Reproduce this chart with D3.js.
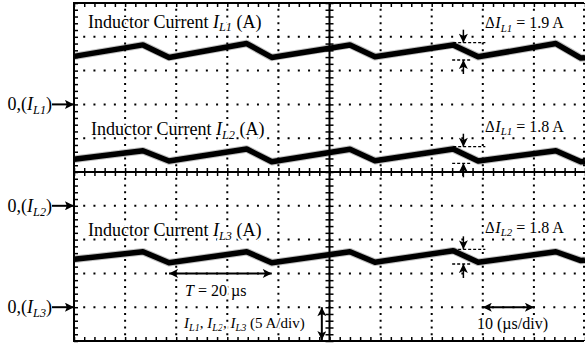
<!DOCTYPE html>
<html>
<head>
<meta charset="utf-8">
<script src="https://cdn.jsdelivr.net/npm/d3@7"></script>
<style>
  body { margin: 0; background: #fff; }
  text { font-family: "Liberation Serif", "Times New Roman", serif; fill: #000;
         stroke: #fff; stroke-width: 4px; stroke-linejoin: round; paint-order: stroke; }
</style>
</head>
<body>
<div id="vis"></div>
<script>
// corner times of the three waveforms (us)
var cornerTimes = [0, 13.5, 18.6, 33.8, 38.7, 54.0, 58.9, 74.2, 79.1, 94.3, 99.2, 100];
// inductor currents at those corners (A)
var iL1 = [7.1, 8.8, 6.95, 9.0, 6.95, 8.8, 7.05, 8.8, 7.05, 9.0, 6.85, 6.9];
var iL2 = [6.88, 8.15, 6.63, 8.4, 6.52, 8.36, 6.67, 8.4, 6.63, 8.15, 6.5, 6.55];
var iL3 = [7.08, 8.2, 6.58, 8.2, 6.58, 8.2, 6.64, 8.36, 6.64, 8.2, 6.9, 6.95];

var traceNames = ["L1", "L2", "L3"];
var zeroDivs = [7, 4, 1];          // screen division of each channel's zero
var rippleNames = ["L1", "L1", "L2"];
var rippleValues = ["1.9", "1.8", "1.8"];
var rippleTop = [9.13, 8.74, 8.56];   // dashed marker levels (A)
var rippleBottom = [6.57, 6.29, 6.39];

var ampsPerDiv = 5;
var usPerDiv = 10;

var width = 585, height = 349;
var pLeft = 74, pRight = 585, pTop = 3, pBottom = 341;

var svg = d3.select("#vis").append("svg")
  .attr("width", width)
  .attr("height", height);

// screen scales in divisions
var xDiv = d3.scaleLinear().domain([0, 10]).range([pLeft, pRight]);
var yDiv = d3.scaleLinear().domain([0, 10]).range([pBottom, pTop]);
// time scale
var x = d3.scaleLinear().domain([0, 10 * usPerDiv]).range([pLeft, pRight]);
function yAmp(ch, a) { return yDiv(zeroDivs[ch] + a / ampsPerDiv); }

// arrowhead markers
var defs = svg.append("defs");
defs.append("marker")
  .attr("id", "head")
  .attr("viewBox", "0 0 10 10")
  .attr("refX", 10).attr("refY", 5)
  .attr("markerWidth", 10).attr("markerHeight", 9)
  .attr("markerUnits", "userSpaceOnUse")
  .attr("orient", "auto-start-reverse")
  .append("path")
  .attr("d", "M0,0 L10,5 L0,10 L2.5,5 Z")
  .attr("fill", "#000");
defs.append("marker")
  .attr("id", "bighead")
  .attr("viewBox", "0 0 10 10")
  .attr("refX", 10).attr("refY", 5)
  .attr("markerWidth", 11).attr("markerHeight", 9)
  .attr("markerUnits", "userSpaceOnUse")
  .attr("orient", "auto")
  .append("path")
  .attr("d", "M0,0 L10,5 L0,10 L2,5 Z")
  .attr("fill", "#000");

// dotted grid (dots at every minor division)
var minorX = (pRight - pLeft) / 50, minorY = (pBottom - pTop) / 50;
var grid = svg.append("g");
grid.selectAll(".vgrid")
  .data([1, 2, 3, 4, 6, 7, 8, 9, 10])
  .enter().append("line")
  .attr("x1", d => Math.min(xDiv(d), width - 1)).attr("x2", d => Math.min(xDiv(d), width - 1))
  .attr("y1", pTop).attr("y2", pBottom)
  .attr("stroke", "#000").attr("stroke-width", 2)
  .attr("stroke-dasharray", "2," + (minorY - 2))
  .attr("stroke-dashoffset", 1);
grid.selectAll(".hgrid")
  .data([1, 2, 3, 4, 6, 7, 8, 9])
  .enter().append("line")
  .attr("y1", d => yDiv(d)).attr("y2", d => yDiv(d))
  .attr("x1", pLeft).attr("x2", pRight)
  .attr("stroke", "#000").attr("stroke-width", 2)
  .attr("stroke-dasharray", "2," + (minorX - 2))
  .attr("stroke-dashoffset", 1);

// minor ticks on borders and centre axes
var minorVals = d3.range(0, 10.001, 0.2);
function styleAxis(g) {
  g.select(".domain").remove();
  g.selectAll("line").attr("stroke", "#000").attr("stroke-width", 1.5);
  g.selectAll("text").remove();
}
svg.append("g").attr("transform", "translate(" + pLeft + ",0)")
  .call(d3.axisLeft(yDiv).tickValues(minorVals).tickSize(-4)).call(styleAxis);
svg.append("g").attr("transform", "translate(0," + pBottom + ")")
  .call(d3.axisBottom(xDiv).tickValues(minorVals).tickSize(-4)).call(styleAxis);
svg.append("g").attr("transform", "translate(0," + pTop + ")")
  .call(d3.axisTop(xDiv).tickValues(minorVals).tickSize(-4)).call(styleAxis);
svg.append("g").attr("transform", "translate(" + xDiv(5) + ",0)")
  .call(d3.axisLeft(yDiv).tickValues(minorVals).tickSize(4)).call(styleAxis)
  .selectAll(".tick line").attr("x1", 4).attr("x2", -4);
svg.append("g").attr("transform", "translate(0," + yDiv(5) + ")")
  .call(d3.axisBottom(xDiv).tickValues(minorVals).tickSize(4)).call(styleAxis)
  .selectAll(".tick line").attr("y1", -4).attr("y2", 4);

// border and centre lines
svg.append("path")
  .attr("d", "M" + (width - 1) + "," + pTop + " L" + pLeft + "," + pTop + " L" + pLeft + "," + pBottom + " L" + (width - 1) + "," + pBottom)
  .attr("fill", "none").attr("stroke", "#000").attr("stroke-width", 2);
svg.append("line").attr("x1", xDiv(5)).attr("x2", xDiv(5)).attr("y1", pTop).attr("y2", pBottom)
  .attr("stroke", "#000").attr("stroke-width", 2);
svg.append("line").attr("x1", pLeft).attr("x2", pRight).attr("y1", yDiv(5)).attr("y2", yDiv(5))
  .attr("stroke", "#000").attr("stroke-width", 2);

// waveforms
var traces = [iL1, iL2, iL3];
traces.forEach(function (vals, ch) {
  var line = d3.line()
    .x((d, i) => x(cornerTimes[i]))
    .y(d => yAmp(ch, d));
  svg.append("path").datum(vals)
    .attr("d", line).attr("fill", "none")
    .attr("stroke", "#000").attr("stroke-opacity", 0.25)
    .attr("stroke-width", 7.5).attr("stroke-linejoin", "round");
  svg.append("path").datum(vals)
    .attr("d", line).attr("fill", "none")
    .attr("stroke", "#000").attr("stroke-width", 5.5)
    .attr("stroke-linejoin", "round");
});

// text helper: parts = [text, italic, subscript]
function rich(x0, y0, size, parts, anchor) {
  var t = svg.append("text").attr("x", x0).attr("y", y0)
    .attr("font-size", size).attr("text-anchor", anchor || "start");
  var shifted = false;
  parts.forEach(function (p) {
    var s = t.append("tspan").text(p[0]);
    if (p[1]) s.attr("font-style", "italic");
    if (p[2]) {
      s.attr("font-size", size * 0.68);
      if (!shifted) { s.attr("dy", size * 0.22); shifted = true; }
    } else if (shifted) {
      s.attr("dy", -size * 0.22); shifted = false;
    }
  });
  return t;
}

var labelX = [88, 91, 88];
var labelY = [27.5, 135, 236];
var rippleY = [28.3, 131.7, 232.7];
traceNames.forEach(function (nm, ch) {
  rich(labelX[ch], labelY[ch], 18, [["Inductor Current "], ["I", true], [nm, true, true], [" (A)"]]);
  rich(485, rippleY[ch], 16, [["\u0394"], ["I", true], [rippleNames[ch], true, true], [" = " + rippleValues[ch] + " A"]]);

  // zero marker on the left
  var zy = yDiv(zeroDivs[ch]);
  rich(52, zy + 6, 18, [["0,("], ["I", true], [nm, true, true], [")"]], "end");
  svg.append("line").attr("x1", 52).attr("x2", pLeft).attr("y1", zy).attr("y2", zy)
    .attr("stroke", "#000").attr("stroke-width", 2).attr("marker-end", "url(#bighead)");

  // ripple markers
  var t0 = cornerTimes[7], ta = 76.2;
  var yt = yAmp(ch, rippleTop[ch]), yb = yAmp(ch, rippleBottom[ch]);
  svg.append("line").attr("x1", x(t0)).attr("x2", x(80.5)).attr("y1", yt).attr("y2", yt)
    .attr("stroke", "#000").attr("stroke-width", 1.3).attr("stroke-dasharray", "3,2");
  svg.append("line").attr("x1", x(t0) - 1).attr("x2", x(77.9)).attr("y1", yb).attr("y2", yb)
    .attr("stroke", "#000").attr("stroke-width", 1.3).attr("stroke-dasharray", "3,2");
  svg.append("line").attr("x1", x(ta)).attr("x2", x(ta)).attr("y1", yt - 13).attr("y2", yt)
    .attr("stroke", "#000").attr("stroke-width", 1.5).attr("marker-end", "url(#head)");
  svg.append("line").attr("x1", x(ta)).attr("x2", x(ta)).attr("y1", yb + 14).attr("y2", yb)
    .attr("stroke", "#000").attr("stroke-width", 1.5).attr("marker-end", "url(#head)");
});

// period arrow
svg.append("line").attr("x1", x(cornerTimes[2])).attr("x2", x(cornerTimes[4]))
  .attr("y1", yDiv(2)).attr("y2", yDiv(2))
  .attr("stroke", "#000").attr("stroke-width", 2)
  .attr("marker-start", "url(#head)").attr("marker-end", "url(#head)");
rich(185, 296, 16, [["T", true], [" = 20 \u00b5s"]]);

// time/div arrow
svg.append("line").attr("x1", x(80)).attr("x2", x(90))
  .attr("y1", yDiv(1)).attr("y2", yDiv(1))
  .attr("stroke", "#000").attr("stroke-width", 2)
  .attr("marker-start", "url(#head)").attr("marker-end", "url(#head)");
rich(477, 329, 16, [["10 (\u00b5s/div)"]]);

// amps/div arrow
svg.append("line").attr("x1", x(48.5)).attr("x2", x(48.5))
  .attr("y1", yDiv(1)).attr("y2", yDiv(0) - 1)
  .attr("stroke", "#000").attr("stroke-width", 2)
  .attr("marker-start", "url(#head)").attr("marker-end", "url(#head)");
rich(184, 328, 15, [["I", true], ["L1", true, true], [", "], ["I", true], ["L2", true, true], [", "],
  ["I", true], ["L3", true, true], [" (5 A/div)"]]);
</script>
</body>
</html>
